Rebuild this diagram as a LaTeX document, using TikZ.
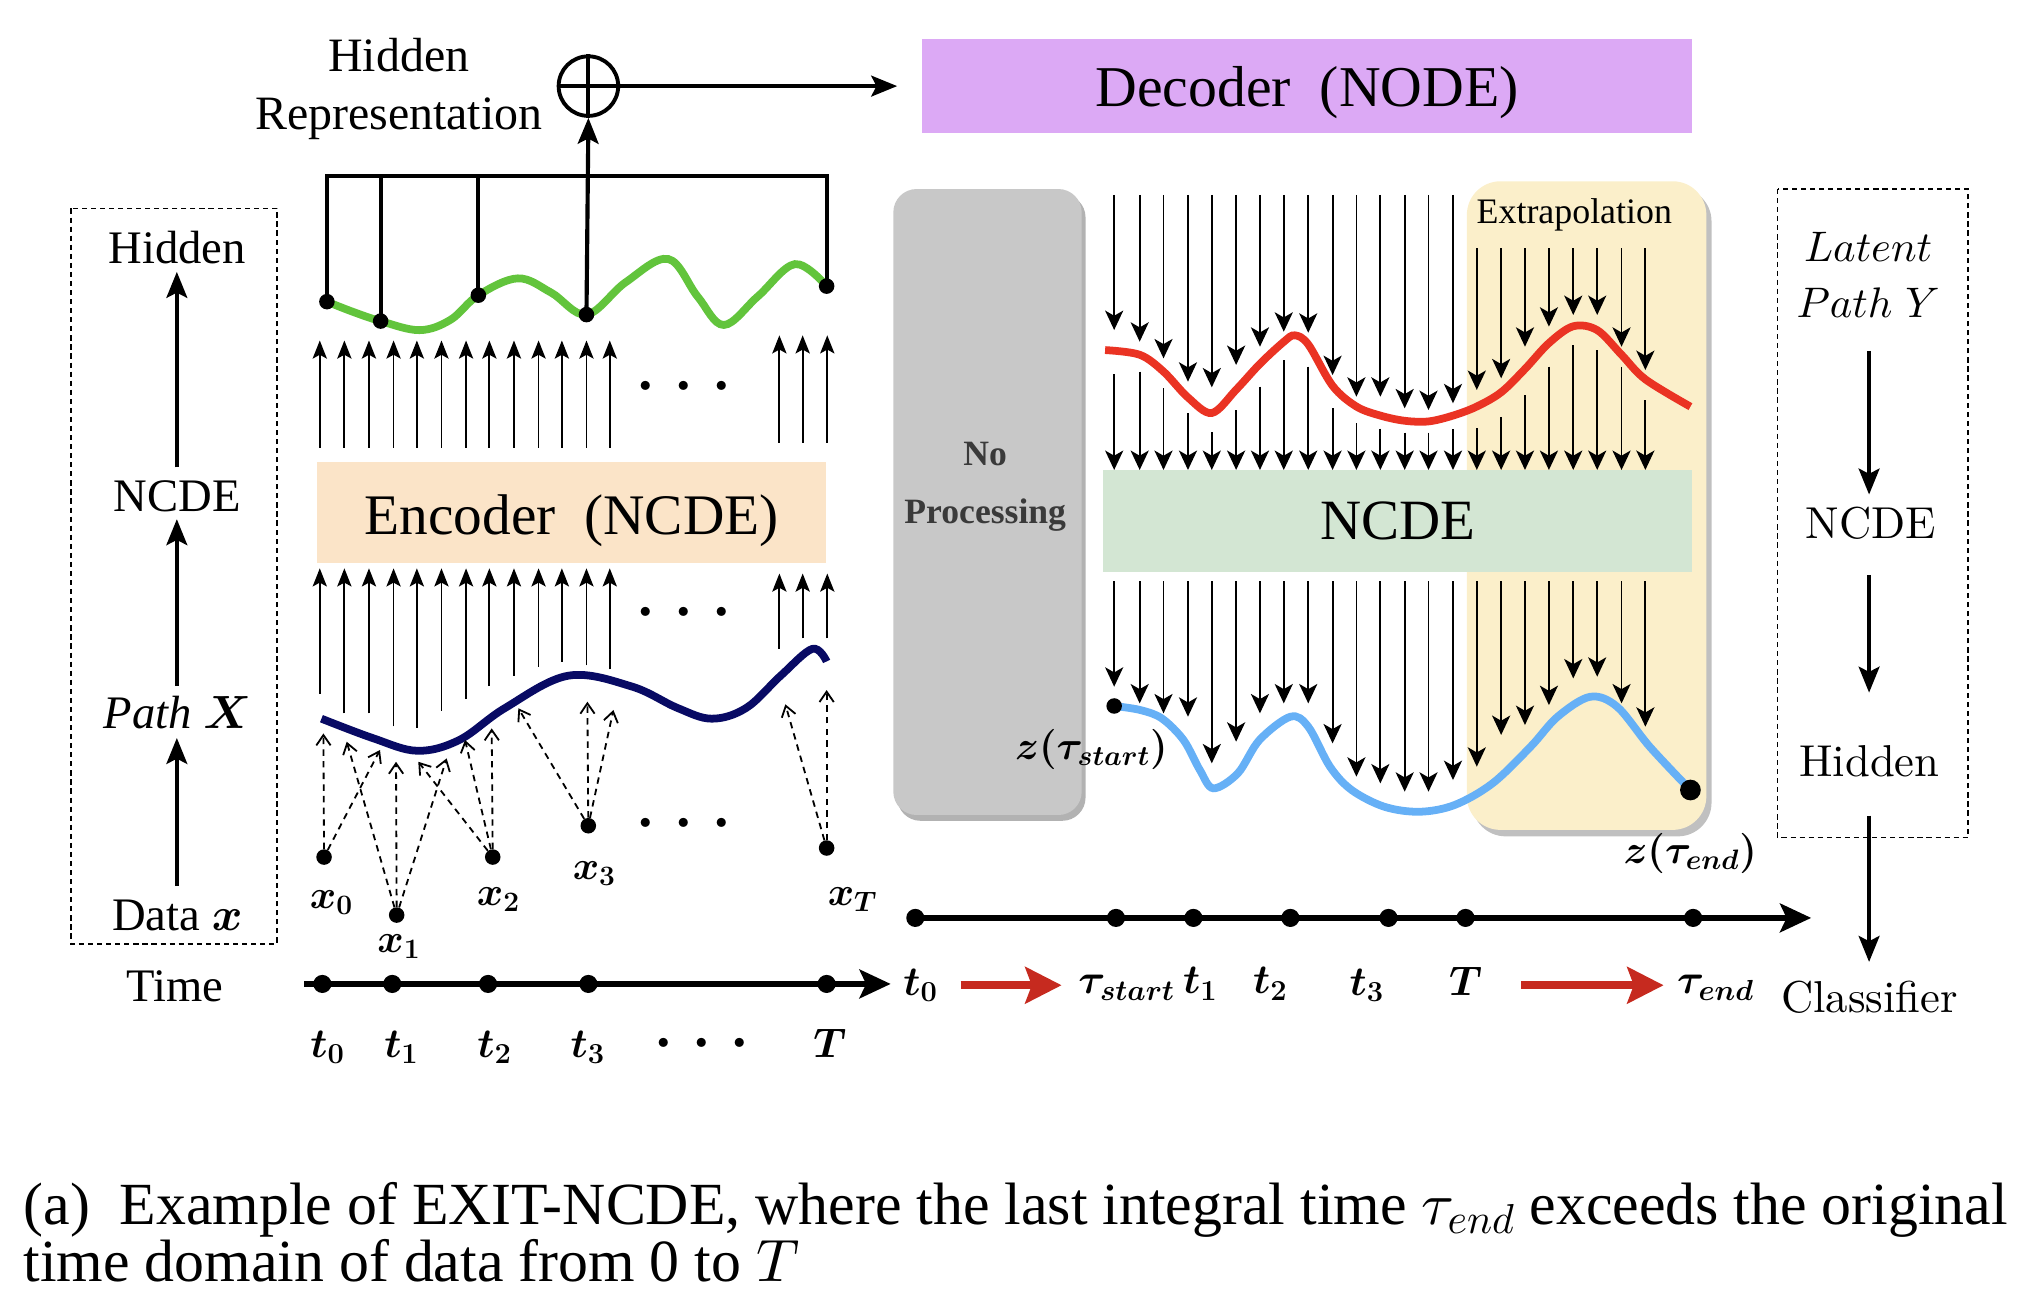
\IfFileExists{fix-cm.sty}{\RequirePackage{fix-cm}}{}
\documentclass[tikz,border=0pt]{standalone}
\usepackage{bm}
\usepackage{fontspec}
\newfontfamily\tms{Liberation Serif}
\newfontfamily\lmten{lmroman10-regular}[Extension=.otf]
\DeclareFontShape{OML}{cmm}{m}{it}{<->cmmi10}{\skewchar\font'177}
\usetikzlibrary{arrows.meta}
\newcommand\fsz[2]{\fontsize{#1}{#2}\selectfont}
\definecolor{decc}{RGB}{220,169,245}
\definecolor{encc}{RGB}{251,228,200}
\definecolor{ncdec}{RGB}{211,230,211}
\definecolor{grayc}{RGB}{200,200,200}
\definecolor{grays}{RGB}{178,178,178}
\definecolor{extc}{RGB}{251,239,202}
\definecolor{exts}{RGB}{192,192,192}
\definecolor{navyc}{RGB}{8,10,100}
\definecolor{greenc}{RGB}{98,196,60}
\definecolor{redc}{RGB}{234,51,35}
\definecolor{bluec}{RGB}{102,176,246}
\definecolor{redar}{RGB}{198,42,31}
\definecolor{nptext}{RGB}{58,58,58}
\begin{document}
\begin{tikzpicture}[x=1pt,y=-1pt,
  txt/.style={inner sep=0pt},
  tlab/.style={inner sep=0pt,font=\tms\fsz{36}{40}},
  rlab/.style={inner sep=0pt,font=\lmten\fsz{34.5}{40}},
  mlab/.style={inner sep=0pt,font=\fsz{31}{36}},
  dot/.style={circle,fill=black,inner sep=0pt,minimum size=12pt},
  tdot/.style={circle,fill=black,inner sep=0pt,minimum size=14pt},
  upar/.style={line width=1.4pt,-{Stealth[length=14pt,width=11pt,inset=3pt]}},
  dnar/.style={line width=1.4pt,-{Stealth[length=15pt,width=14pt,inset=4pt]}},
  bigar/.style={line width=3.2pt,-{Stealth[length=20pt,width=16pt,inset=4pt]}},
  dasharr/.style={line width=1.4pt,dash pattern=on 5pt off 4pt,-{Straight Barb[length=8pt,width=11pt,line width=1.4pt]}},
  dbox/.style={line width=1.3pt,dash pattern=on 4pt off 3pt},
  axis/.style={line width=5pt,-{Stealth[length=24pt,width=22pt,inset=5pt]}},
  redarr/.style={redar,line width=6pt,-{Stealth[length=28pt,width=28pt,inset=5pt]}},
  curve/.style={line width=6pt}
]
\useasboundingbox (0,0) rectangle (1568,1013);

% ---------- boxes ----------
\node[fill=decc,minimum width=595pt,minimum height=73pt,inner sep=0pt,font=\tms\fsz{44.6}{50}] (dec) at (1009.5,66.5) {\raisebox{-16pt}[0pt][0pt]{Decoder~~(NODE)}};

\fill[grays,rounded corners=18pt] (693,150) rectangle (838.5,634);
\fill[grayc,rounded corners=18pt] (690,146) rectangle (835.5,629.5);
\node[align=center,inner sep=0pt,text=nptext,font=\tms\bfseries\fsz{27.5}{45}] (np) at (761,376) {No\\Processing};

\fill[exts,rounded corners=26pt] (1137,145) rectangle (1322,646);
\fill[extc,rounded corners=26pt] (1133,140) rectangle (1318,641);
\node[inner sep=0pt,font=\tms\fsz{27.7}{32}] (extra) at (1216,166) {Extrapolation};

\node[fill=ncdec,minimum width=455pt,minimum height=79pt,inner sep=0pt,font=\tms\fsz{44}{50}] (ncde) at (1079.5,402.5) {NCDE};
\node[fill=encc,minimum width=393pt,minimum height=78pt,inner sep=0pt,font=\tms\fsz{44.3}{50}] (enc) at (441.5,396) {\raisebox{-16.5pt}[0pt][0pt]{Encoder~~(NCDE)}};

% ---------- left dashed legend ----------
\draw[dbox] (55,161) rectangle (214,729);
\node[tlab] (lhid) at (137,191) {Hidden};
\node[tlab] (lncde) at (137,383) {NCDE};
\node[tlab] (lpath) at (137,550) {\itshape Path $\bm{X}$};
\node[tlab] (ldata) at (137,707) {Data $\bm{x}$};
\node[tlab] (ltime) at (135,762) {Time};
\coordinate (la1) at (136.6,361); \coordinate (la1e) at (136.6,210);
\coordinate (la2) at (136.6,530); \coordinate (la2e) at (136.6,401);
\coordinate (la3) at (136.6,684.5); \coordinate (la3e) at (136.6,570);
\draw[bigar] (la1) -- (la1e);
\draw[bigar] (la2) -- (la2e);
\draw[bigar] (la3) -- (la3e);

% ---------- right dashed legend ----------
\draw[dbox] (1373,146) rectangle (1520,647);
\node[align=center,inner sep=0pt,font=\fsz{33}{43}] (rlat) at (1443,212.5) {$Latent$\\$Path\ Y$};
\node[rlab] (rncde) at (1445,404) {NCDE};
\node[rlab] (rhid) at (1444,588) {Hidden};
\node[rlab] (rcls) at (1444,770) {Classifier};
\coordinate (ra1) at (1443.7,271); \coordinate (ra1e) at (1443.7,382);
\coordinate (ra2) at (1443.7,444); \coordinate (ra2e) at (1443.7,535);
\coordinate (ra3) at (1443.7,630); \coordinate (ra3e) at (1443.7,743);
\draw[bigar] (ra1) -- (ra1e);
\draw[bigar] (ra2) -- (ra2e);
\draw[bigar] (ra3) -- (ra3e);

% ---------- hidden representation ----------
\node[align=center,inner sep=0pt,font=\tms\fsz{37}{45}] (hrep) at (308,68.5) {Hidden\\Representation};
\node[circle,draw,line width=3pt,minimum size=46pt,inner sep=0pt] (op) at (454.5,66.5) {};
\draw[line width=3pt] (op.north) -- (op.south) (op.west) -- (op.east);
\coordinate (decin) at (693,66.5);
\draw[bigar] (op.east) -- (decin);

% ---------- encoder arrows ----------
\foreach \x/\t in {247/536,266/551,285/551,304/561,322/562,341/549,360/540,378/530,397/522,416/515,434/511,453/514,471/517}
  {\draw[upar] (\x,\t) -- (\x,439); \draw[upar] (\x,346) -- (\x,263);}
\foreach \x/\t in {602/501,620/493,639/493}
  {\draw[upar] (\x,\t) -- (\x,443); \draw[upar] (\x,342) -- (\x,259);}
\node[txt,font=\fsz{45}{50}] (dots1) at (528.5,299) {$\bm{\cdot}$\hspace{15pt}$\bm{\cdot}$\hspace{15pt}$\bm{\cdot}$};
\node[txt,font=\fsz{45}{50}] (dots2) at (528.5,473) {$\bm{\cdot}$\hspace{15pt}$\bm{\cdot}$\hspace{15pt}$\bm{\cdot}$};
\node[txt,font=\fsz{45}{50}] (dots3) at (528.5,636.5) {$\bm{\cdot}$\hspace{15pt}$\bm{\cdot}$\hspace{15pt}$\bm{\cdot}$};

% ---------- green hidden curve ----------
\draw[greenc,curve] plot[smooth,tension=0.6] coordinates {(252.5,233) (273,241) (294,248) (324,255) (348,247) (369.5,228) (400,215) (425.7,226) (453,243) (483.3,218) (516,200) (538.8,229) (559,251) (585.3,229) (614,204) (638.5,221)};
\node[dot] (g1) at (252.5,233) {};
\node[dot] (g2) at (294,248) {};
\node[dot] (g3) at (369.5,228) {};
\node[dot] (g4) at (453,243) {};
\node[dot] (g5) at (638.5,221) {};
\coordinate (b1) at (252.5,136); \coordinate (b5) at (638.5,136);
\draw[line width=3pt,line join=miter] (g1.center) -- (b1) -- (b5) -- (g5.center);
\draw[line width=3pt] (g2.center) -- (g2 |- b1);
\draw[line width=3pt] (g3.center) -- (g3 |- b1);
\draw[bigar] (g4.center) -- (op.south);

% ---------- navy path X ----------
\draw[navyc,curve] plot[smooth,tension=0.6] coordinates {(248.3,555.1) (288.2,570.2) (322.4,579.9) (354.7,571.6) (390.2,546.8) (439,521.9) (487.8,530.2) (523.2,546.8) (549.8,555.1) (576.4,546.8) (603,521.9) (627.4,501.2) (638.5,510.9)};

% ---------- data points ----------
\node[dot] (x0) at (250.3,662) {};
\node[dot] (x1) at (306.4,706.8) {};
\node[dot] (x2) at (380.6,662) {};
\node[dot] (x3) at (454.4,637.8) {};
\node[dot] (xT) at (638.5,655) {};
\node[mlab] (lx0) at (256,697) {$\bm{x_0}$};
\node[mlab] (lx1) at (308,731.5) {$\bm{x_1}$};
\node[mlab] (lx2) at (385,694.5) {$\bm{x_2}$};
\node[mlab] (lx3) at (459,675) {$\bm{x_3}$};
\node[mlab] (lxT) at (658.5,694.5) {$\bm{x_T}$};
\foreach \s/\tx/\ty [count=\i] in {x0/249.8/566.5, x0/293.5/579.3, x1/267.8/572.9, x1/305.9/588.4, x1/345/585.8, x2/323.1/588.4, x2/359.2/571.6, x2/379.8/562.6, x3/400.4/547.1, x3/453.7/542, x3/473.8/548.4, xT/606.6/544, xT/638.5/533}
  {\coordinate (dt\i) at (\tx,\ty); \draw[dasharr] (\s) -- (dt\i);}

% ---------- left time axis ----------
\coordinate (ax1s) at (235,760); \coordinate (ax1e) at (688,760);
\draw[axis] (ax1s) -- (ax1e);
\foreach \x [count=\i] in {249,303,377,454.5,638.5} \node[tdot] (lt\i) at (\x,760) {};
\node[mlab,font=\fsz{32}{36}] (tl0) at (253,809) {$\bm{t_0}$};
\node[mlab,font=\fsz{32}{36}] (tl1) at (310,809) {$\bm{t_1}$};
\node[mlab,font=\fsz{32}{36}] (tl2) at (382,809) {$\bm{t_2}$};
\node[mlab,font=\fsz{32}{36}] (tl3) at (454,809) {$\bm{t_3}$};
\node[txt,font=\fsz{45}{50}] (tld) at (542,806) {$\bm{\cdot}$\hspace{15pt}$\bm{\cdot}$\hspace{15pt}$\bm{\cdot}$};
\node[mlab,font=\fsz{32}{36}] (tlT) at (641,806) {$\bm{T}$};

% ---------- right NCDE arrows ----------
\foreach \x/\t/\a/\b/\c in {860.6/150.6/254.9/288.9/530.4, 880.3/150.6/263.9/287.1/543.3, 898.7/150.6/276.8/300.0/551.0, 917.6/150.6/294.8/319.3/553.6, 936.0/150.6/299.2/334.0/589.6, 954.8/150.6/281.9/316.7/572.9, 973.2/150.6/267.8/298.7/551.0, 991.6/150.6/256.2/278.1/543.3, 1010.5/150.6/257.0/283.2/543.3, 1029.3/150.6/289.7/315.4/574.2, 1047.7/150.6/306.4/327.0/599.9, 1066.2/150.6/306.4/331.0/605.1, 1085.0/150.6/315.4/334.2/611.5, 1103.4/150.6/316.7/334.2/611.5, 1122.3/150.6/311.5/331.6/602.5, 1140.7/191.7/301.2/330.9/592.2, 1159.5/191.7/292.2/321.9/567.7, 1177.9/191.7/267.8/305.1/560.0, 1196.4/191.7/252.3/283.2/544.6, 1215.2/191.7/243.3/266.5/524.0, 1233.7/191.7/243.3/270.4/522.7, 1252.5/191.7/267.8/283.2/543.3, 1270.9/191.7/285.8/309.0/561.3}
  {\draw[dnar] (\x,\t) -- (\x,\a);
   \draw[dnar] (\x,\b) -- (\x,363);
   \draw[dnar] (\x,449) -- (\x,\c);}

% ---------- red and blue curves ----------
\draw[redc,curve] plot[smooth,tension=0.55] coordinates {(853.6,270.4) (880.3,274) (898.7,287) (917.6,307) (936,319) (954.8,301) (973.2,281) (991.6,264) (1000,259) (1010.5,266) (1029.3,298) (1047.7,314) (1066.2,321) (1085,325) (1103.4,325.5) (1122.3,321) (1140.7,314) (1159.5,303) (1177.9,285) (1196.4,265) (1215.2,252) (1233.7,255) (1252.5,274) (1270.9,293) (1305.7,314.1)};
\draw[bluec,curve] plot[smooth,tension=0.55] coordinates {(860.6,545.3) (880.7,548.4) (897.4,554.9) (914.2,571.6) (926.8,594.8) (937.2,608.9) (956.1,597.3) (972.8,571.6) (996.7,553.6) (1010.5,561.3) (1027.3,592.2) (1044,610.2) (1069.2,623.1) (1096.3,627) (1123.5,621.8) (1152.8,605.1) (1182.2,576.8) (1203.1,553.6) (1228.2,538.2) (1249.1,545.9) (1274.3,576.8) (1305.7,610.2)};
\node[dot] (zs) at (860.6,545.3) {};
\node[dot,minimum size=16pt] (ze) at (1305.7,610.2) {};
\node[mlab] (lzs) at (843,579) {$\bm{z(\tau_{start})}$};
\node[mlab] (lze) at (1305.5,659) {$\bm{z(\tau_{end})}$};

% ---------- right time axis ----------
\coordinate (ax2s) at (707,709); \coordinate (ax2e) at (1399,709);
\draw[axis] (ax2s) -- (ax2e);
\foreach \x [count=\i] in {707,862,921.8,996.7,1072.5,1132,1307.8} \node[tdot] (rt\i) at (\x,709) {};
\node[mlab,font=\fsz{32}{36}] (rl0) at (711,761) {$\bm{t_0}$};
\node[mlab,font=\fsz{32}{36}] (rls) at (870.2,763) {$\bm{\tau_{start}}$};
\node[mlab,font=\fsz{32}{36}] (rl1) at (927,760) {$\bm{t_1}$};
\node[mlab,font=\fsz{32}{36}] (rl2) at (981.2,760) {$\bm{t_2}$};
\node[mlab,font=\fsz{32}{36}] (rl3) at (1055.7,761) {$\bm{t_3}$};
\node[mlab,font=\fsz{32}{36}] (rlT) at (1132,758.3) {$\bm{T}$};
\node[mlab,font=\fsz{32}{36}] (rle) at (1325,763) {$\bm{\tau_{end}}$};
\coordinate (r1s) at (742,761); \coordinate (r1e) at (820,761);
\coordinate (r2s) at (1175,761); \coordinate (r2e) at (1285,761);
\draw[redarr] (r1s) -- (r1e);
\draw[redarr] (r2s) -- (r2e);

% ---------- caption ----------
\node[anchor=base west,inner sep=0pt,font=\tms\fsz{46.2}{50}] (cap1) at (18,946) {(a)\ \ Example of EXIT-NCDE, where the last integral time $\tau_{end}$ exceeds the original};
\node[anchor=base west,inner sep=0pt,font=\tms\fsz{46.2}{50}] (cap2) at (18,990) {time domain of data from 0 to $T$};
\end{tikzpicture}
\end{document}
